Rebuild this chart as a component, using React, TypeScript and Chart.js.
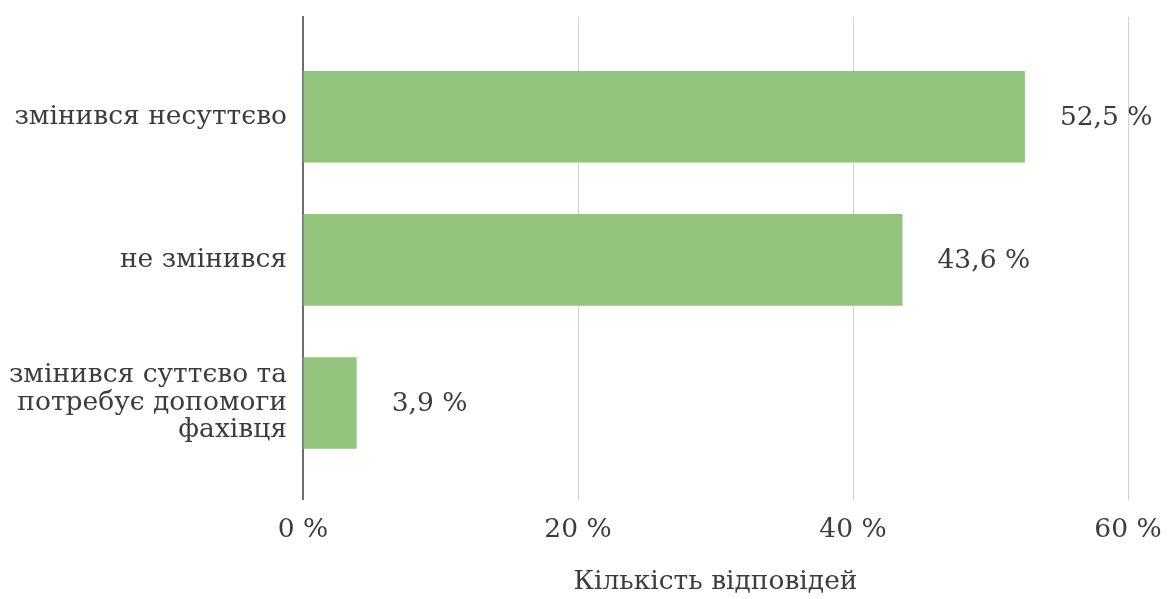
import React, { useEffect, useRef } from "react";
import { Chart, registerables } from "chart.js";

Chart.register(...registerables);

const categoryLines: string[][] = [
  ["змінився несуттєво"],
  ["не змінився"],
  ["змінився суттєво та", "потребує допомоги", "фахівця"],
];
const values: number[] = [52.5, 43.6, 3.9];
const xTicks: number[] = [0, 20, 40, 60];
const axisTitle = "Кількість відповідей";

const FONT = "'DejaVu Serif', serif";
const TEXT = "#3c3c3c";
const FS = 26.5;

const fmt = (v: number) => v.toFixed(1).replace(".", ",") + " %";

const dataLabelPlugin = {
  id: "dataLabels",
  afterDatasetsDraw(chart: any) {
    const ctx = chart.ctx;
    const meta = chart.getDatasetMeta(0);
    ctx.save();
    ctx.font = `${FS}px ${FONT}`;
    ctx.fillStyle = TEXT;
    ctx.textAlign = "left";
    ctx.textBaseline = "middle";
    meta.data.forEach((el: any, i: number) => {
      ctx.fillText(fmt(values[i]), el.x + 35, el.y + 1);
    });
    ctx.restore();
  },
};

export default function App() {
  const ref = useRef<HTMLCanvasElement>(null);
  useEffect(() => {
    document.body.style.margin = "0";
    const chart = new Chart(ref.current!, {
      type: "bar",
      data: {
        datasets: [
          {
            data: values.map((v, i) => ({ x: v, y: i })) as any,
            backgroundColor: "#93c47d",
            categoryPercentage: 1,
            barPercentage: 0.64,
          },
        ],
      },
      options: {
        indexAxis: "y",
        animation: false,
        responsive: false,
        layout: { padding: { top: 17, right: 48, bottom: 0, left: 0 } },
        plugins: { legend: { display: false }, tooltip: { enabled: false } },
        scales: {
          x: {
            type: "linear",
            min: 0,
            max: 60,
            bounds: "data",
            afterBuildTicks: (s: any) => {
              s.ticks = xTicks.map((v) => ({ value: v }));
            },
            afterFit: (s: any) => {
              s.paddingRight = 0;
              s.paddingLeft = 0;
            },
            ticks: {
              callback: (v: any) => `${v} %`,
              color: TEXT,
              font: { family: FONT, size: FS, lineHeight: 1.1 },
              padding: 16,
            },
            grid: { color: "#d0d0d0", lineWidth: 1, drawTicks: false },
            border: { display: false },
            title: {
              display: true,
              text: axisTitle,
              color: TEXT,
              font: { family: FONT, size: FS, lineHeight: 1.1 },
              padding: { top: 7, bottom: 2 },
            },
          },
          y: {
            type: "linear",
            reverse: true,
            offset: false,
            bounds: "data",
            min: -0.697,
            max: 2.676,
            afterBuildTicks: (s: any) => {
              s.ticks = categoryLines.map((_, i) => ({ value: i }));
            },
            afterFit: (s: any) => {
              s.width = 303;
              s.paddingTop = 0;
              s.paddingBottom = 0;
            },
            ticks: {
              callback: (v: any) => categoryLines[v] ?? "",
              color: TEXT,
              font: { family: FONT, size: FS, lineHeight: 1.04 },
              padding: 16,
            },
            grid: { display: false, drawTicks: false },
            border: { display: true, color: "#6e6e6e", width: 2 },
          },
        },
      },
      plugins: [dataLabelPlugin],
    });
    return () => chart.destroy();
  }, []);
  return (
    <div style={{ width: 1176, height: 599 }}>
      <canvas ref={ref} width={1176} height={599} />
    </div>
  );
}
